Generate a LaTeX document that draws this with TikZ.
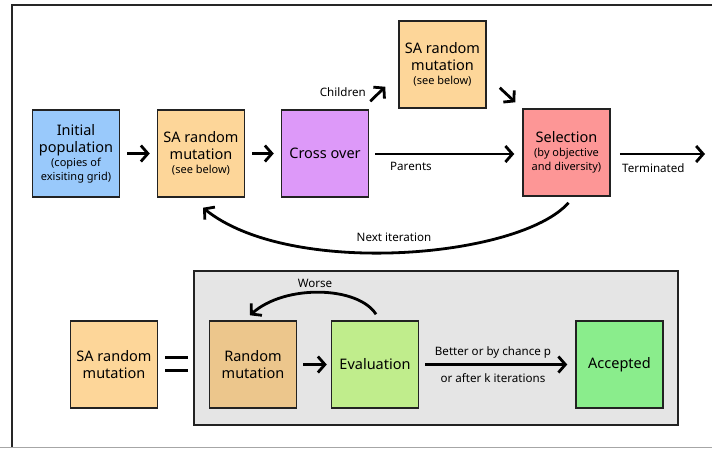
\documentclass[tikz,border=0pt]{standalone}
\usepackage{fontspec}
\setmainfont{Noto Sans}
\usetikzlibrary{arrows.meta}
\definecolor{cblue}{HTML}{99C9FB}
\definecolor{corange}{HTML}{FDD699}
\definecolor{cpurple}{HTML}{DD99F9}
\definecolor{cred}{HTML}{FD9696}
\definecolor{cdarkorange}{HTML}{ECC68C}
\definecolor{clime}{HTML}{C0ED8C}
\definecolor{cgreen}{HTML}{8AED8C}
\definecolor{cpanel}{HTML}{E5E5E5}
\definecolor{cedge}{HTML}{222222}
\tikzset{
  box/.style={draw=cedge, line width=1.5pt, minimum width=87pt, minimum height=87pt,
    inner sep=2pt, align=center, font=\fontsize{14.5}{17}\selectfont},
  flow/.style={line width=2.8pt, -{Straight Barb[length=7pt,width=16pt,line width=2.8pt]}},
  lbl/.style={font=\fontsize{11.6}{13}\selectfont, inner sep=1pt},
}
% smaller type for the secondary lines of a box
\newcommand{\smalltail}[1]{{\fontsize{11}{12}\selectfont #1}}
\begin{document}
\begin{tikzpicture}[x=1pt,y=-1pt]
\useasboundingbox (0,0) rectangle (712,448);
% frame
\draw[line width=2pt, black!85] (12,448) -- (12,5) -- (712,5);
\draw[line width=1pt, black!35] (0,447) -- (712,447);

% upper loop
\node[box, fill=cblue] (init) at (76,153.5) {Initial\\population\\[-3pt]\smalltail{(copies of}\\[-3pt]\smalltail{exisiting grid)}};
\node[box, fill=corange] (sa1) at (201,153.5) {SA random\\mutation\\[-3pt]\smalltail{(see below)}};
\node[box, fill=cpurple] (cross) at (325,153.5) {Cross over};
\node[box, fill=corange] (sa2) at (442.5,64.5) {SA random\\mutation\\[-3pt]\smalltail{(see below)}};
\node[box, fill=cred] (sel) at (566.5,152.5) {Selection\\[-3pt]\smalltail{(by objective}\\[-3pt]\smalltail{and diversity)}};
\coordinate (out) at (705,154);

\draw[flow] ([shift={(7,0)}]init.east) -- ([shift={(-7,0)}]sa1.west);
\draw[flow] ([shift={(7,0)}]sa1.east) -- ([shift={(-7,0)}]cross.west);
\draw[flow] ([shift={(6,0.5)}]cross.east) -- ([shift={(-8,1.5)}]sel.west);
\node[lbl, anchor=west] (parents) at (389,166) {Parents};
\draw[flow] ([shift={(1,-8)}]cross.north east) -- ([shift={(-13,-22)}]sa2.south west);
\node[lbl, anchor=east] (children) at (367,92) {Children};
\draw[flow] ([shift={(13,-21)}]sa2.south east) -- ([shift={(-7,-6)}]sel.north west);
\draw[flow] ([shift={(9,1.5)}]sel.east) -- (out);
\node[lbl, anchor=west] (term) at (621,168) {Terminated};
\draw[flow] ([shift={(2,6)}]sel.south) .. controls (520,258) and (290,278) .. ([shift={(2,10)}]sa1.south);
\node[lbl] (next) at (394,237) {Next iteration};

% SA random mutation detail
\node[box, fill=corange] (sa3) at (114,364.5) {SA random\\mutation};
\draw[line width=3.5pt] (165,357.5) -- (188,357.5) (165,370.5) -- (188,370.5);
\draw[draw=cedge, line width=1.8pt, fill=cpanel] (194,271) rectangle (678,425);
\node[box, fill=cdarkorange] (rm) at (253,364.5) {Random\\mutation};
\node[box, fill=clime] (eval) at (375,364.5) {Evaluation};
\node[box, fill=cgreen] (acc) at (619.5,364.5) {Accepted};
\draw[flow] ([shift={(6,0)}]rm.east) -- ([shift={(-4,0)}]eval.west);
\draw[flow] ([shift={(6,0)}]eval.east) -- ([shift={(-8,0)}]acc.west);
\node[lbl] (better) at (493,352) {Better or by chance p};
\node[lbl] (after) at (493,378) {or after k iterations};
\draw[flow] ([shift={(1,-6)}]eval.north) .. controls (358,286) and (285,284) .. ([shift={(-3,-5)}]rm.north);
\node[lbl] (worse) at (315,283) {Worse};
\end{tikzpicture}
\end{document}
